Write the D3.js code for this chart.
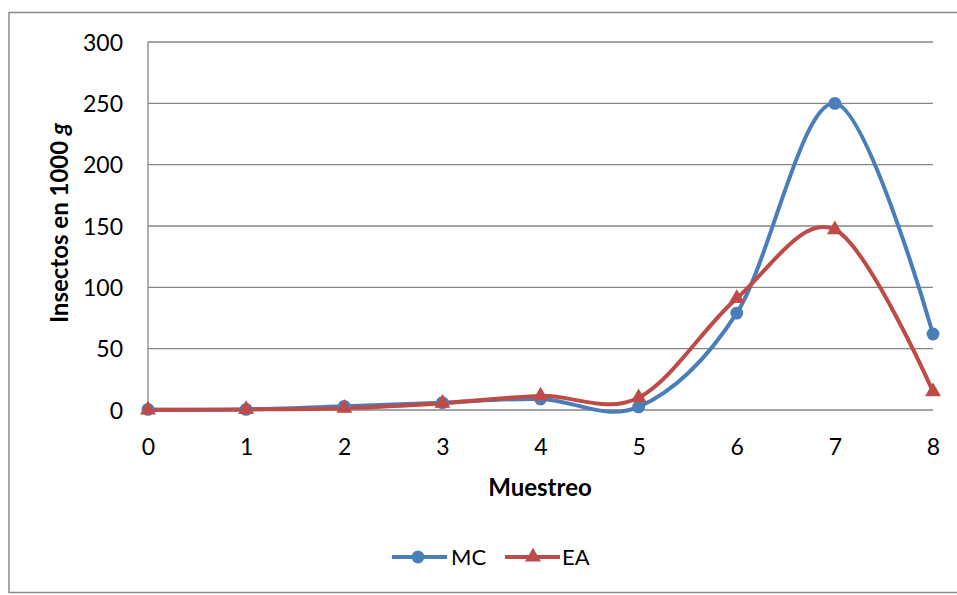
<!DOCTYPE html>
<html><head><meta charset="utf-8">
<script src="https://cdn.jsdelivr.net/npm/d3@7"></script>
<style>
body{margin:0;background:#fff;}
text{font-family:Lato,"Open Sans",sans-serif;fill:#000;}
</style></head>
<body><svg id="c" width="957" height="595"></svg>
<script>
const categories = [0,1,2,3,4,5,6,7,8];
const mcValues = [0.5,0.5,3,6,9,2.5,79,250,62];
const eaValues = [0,0.5,1.5,5.5,11.5,10,91,147,15];
const yTicks = [0,50,100,150,200,250,300];
const seriesNames = ["MC","EA"];
const seriesColors = ["#4a7ebb","#be4b48"];

const svg = d3.select("#c");
svg.append("rect").attr("x",9).attr("y",12.5).attr("width",960).attr("height",580)
  .attr("fill","#fff").attr("stroke","#8a8a8a").attr("stroke-width",1.5);

const x = d3.scaleLinear().domain([0,8]).range([148,933]);
const y = d3.scaleLinear().domain([0,300]).range([410,42]);

svg.append("g").selectAll("line").data(yTicks).join("line")
  .attr("x1",148).attr("x2",933).attr("y1",d=>y(d)).attr("y2",d=>y(d))
  .attr("stroke","#868686").attr("stroke-width",1.3);
svg.append("line").attr("x1",148).attr("x2",148).attr("y1",y(300)).attr("y2",y(0))
  .attr("stroke","#868686").attr("stroke-width",1.3);

const yAxis = d3.axisLeft(y).tickValues(yTicks).tickSize(0).tickPadding(25);
const gy = svg.append("g").attr("transform","translate(148,0)").call(yAxis);
gy.select(".domain").remove();
gy.selectAll("text").style("font-size","23px").style("font-family","Lato,sans-serif").attr("fill","#000").attr("dy","0.35em");

const xAxis = d3.axisBottom(x).tickValues(categories).tickFormat(d3.format("d")).tickSize(0);
const gx = svg.append("g").attr("transform","translate(0,410)").call(xAxis);
gx.select(".domain").remove();
gx.selectAll("text").style("font-size","23px").style("font-family","Lato,sans-serif").attr("fill","#000").attr("dy","0.35em").attr("y",37);

svg.append("text").attr("x",540).attr("y",496).attr("text-anchor","middle")
  .style("font-size","24px").style("font-weight","bold").text("Muestreo");
const yt = svg.append("text").attr("transform","translate(68,223) rotate(-90)").attr("text-anchor","middle")
  .style("font-size","24px").style("font-weight","bold");
yt.append("tspan").text("Insectos en 1000 ");
yt.append("tspan").style("font-style","italic").text("g");

const line = d3.line().x((d,i)=>x(categories[i])).y(d=>y(d)).curve(d3.curveCatmullRom.alpha(0));
[mcValues, eaValues].forEach((vals,si)=>{
  svg.append("path").datum(vals).attr("d",line).attr("fill","none")
    .attr("stroke",seriesColors[si]).attr("stroke-width",4).attr("stroke-linejoin","round");
});
const circleSym = d3.symbol().type(d3.symbolCircle).size(130);
const triSym = d3.symbol().type(d3.symbolTriangle).size(110);
svg.append("g").selectAll("path").data(mcValues).join("path")
  .attr("d",circleSym).attr("transform",(d,i)=>`translate(${x(categories[i])},${y(d)})`).attr("fill",seriesColors[0]);
svg.append("g").selectAll("path").data(eaValues).join("path")
  .attr("d",triSym).attr("transform",(d,i)=>`translate(${x(categories[i])},${y(d)})`).attr("fill",seriesColors[1]);

const leg = [{x1:392,x2:447,mx:418,tx:451},{x1:505,x2:560,mx:533,tx:562}];
leg.forEach((l,i)=>{
  svg.append("line").attr("x1",l.x1).attr("x2",l.x2).attr("y1",557).attr("y2",557)
    .attr("stroke",seriesColors[i]).attr("stroke-width",4);
  svg.append("path").attr("d",i===0?circleSym():triSym()).attr("transform",`translate(${l.mx},557)`).attr("fill",seriesColors[i]);
  svg.append("text").attr("x",l.tx).attr("y",557).attr("dy","0.35em").style("font-size","22px").text(seriesNames[i]);
});
</script></body></html>
